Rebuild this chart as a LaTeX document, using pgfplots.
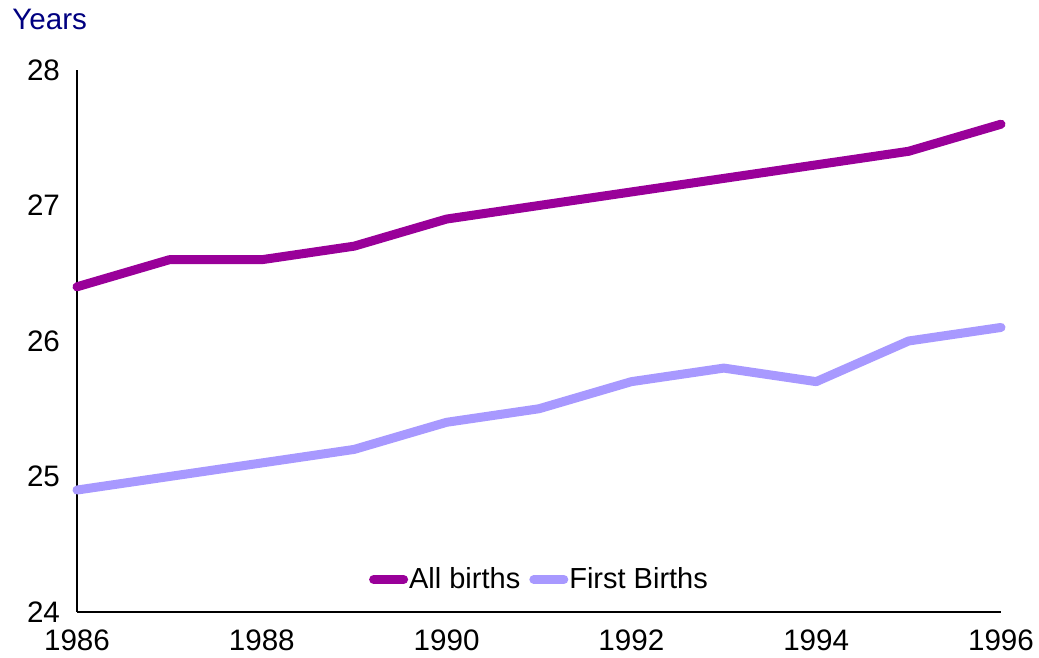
\documentclass[border=0pt]{standalone}
\usepackage{pgfplots}
\pgfplotsset{compat=1.18}
\usepackage{fontspec}
\setmainfont{Liberation Sans}
\definecolor{allb}{HTML}{990099}
\definecolor{firstb}{HTML}{A899FF}
\definecolor{navy}{HTML}{000080}
\begin{document}
\begin{tikzpicture}
\useasboundingbox (-38.5pt,-23pt) rectangle (481pt,306pt);
\begin{axis}[
  at={(0pt,0pt)}, anchor=south west,
  scale only axis,
  width=462pt, height=271pt,
  xmin=1986, xmax=1996, ymin=24, ymax=28,
  axis lines*=left,
  axis line style={line width=0.7pt},
  xtick={1986,1988,...,1996},
  ytick={24,25,26,27,28},
  major tick length=0pt,
  xticklabel style={/pgf/number format/1000 sep={}},
  /pgf/number format/assume math mode=true,
  tick label style={font=\fontsize{14.8}{17}\selectfont},
  yticklabel style={xshift=-5pt},
  xticklabel style={yshift=-5.5pt},
  clip=false,
  legend style={at={(0.5,0.06)}, anchor=center, draw=none, fill=none,
    legend columns=2, font=\fontsize{14.5}{17}\selectfont,
    /tikz/every even column/.append style={column sep=4pt},
    nodes={inner xsep=0.5pt}},
  legend image code/.code={\draw[#1, line cap=round] (0pt,0pt) -- (15pt,0pt);},
  every axis plot/.append style={line width=4.5pt, line cap=round, line join=round},
]
\addplot[allb] coordinates {(1986,26.4)(1987,26.6)(1988,26.6)(1989,26.7)(1990,26.9)(1991,27.0)(1992,27.1)(1993,27.2)(1994,27.3)(1995,27.4)(1996,27.6)};
\addlegendentry{All births}
\addplot[firstb] coordinates {(1986,24.9)(1987,25.0)(1988,25.1)(1989,25.2)(1990,25.4)(1991,25.5)(1992,25.7)(1993,25.8)(1994,25.7)(1995,26.0)(1996,26.1)};
\addlegendentry{First Births}
\node[anchor=base west, text=navy, font=\fontsize{14.8}{17}\selectfont, inner sep=0pt] at ([xshift=-32.5pt, yshift=20pt]rel axis cs:0,1) {Years};
\end{axis}
\end{tikzpicture}
\end{document}
